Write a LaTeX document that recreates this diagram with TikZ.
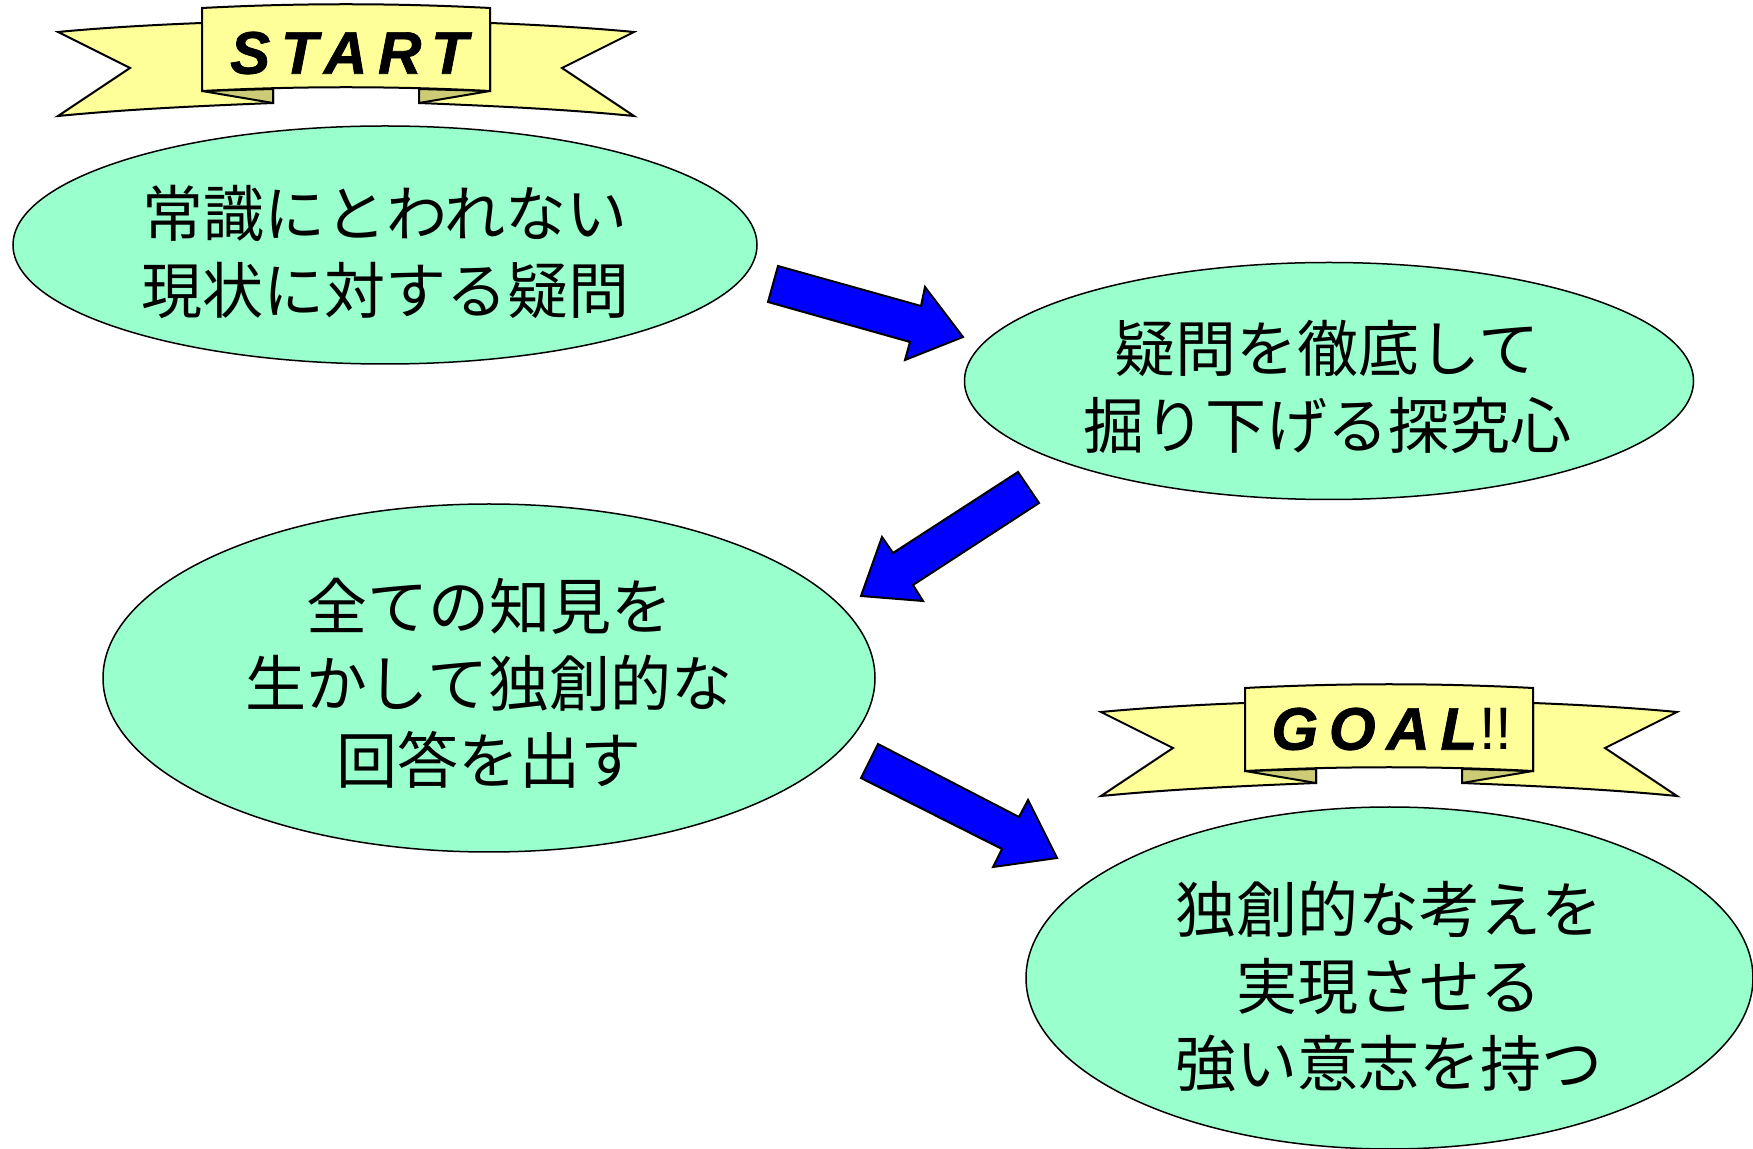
\documentclass[tikz,border=0pt]{standalone}
\usepackage{fontspec}
\usetikzlibrary{shapes.geometric}
\newfontfamily\jp{Noto Sans CJK JP}
\newfontfamily\bannerfont{Liberation Sans}[LetterSpace=18, FakeBold=1.2]
\newfontfamily\bangfont{Liberation Sans}
\definecolor{mint}{HTML}{99FFCC}
\definecolor{ribbon}{HTML}{FFFF99}
\definecolor{ribbondark}{HTML}{CCCC77}
\definecolor{arrowblue}{HTML}{0000FF}
\newcommand\drawribbon{%
  % left wing
  \draw[ribbonline, fill=ribbon] (202,23) .. controls (150,25) and (100,28) .. (58,32) -- (130,68) -- (58,116)
    .. controls (130,109) and (200,106) .. (273,103) -- (273,90) -- (202,91) -- cycle;
  % right wing
  \draw[ribbonline, fill=ribbon] (490,23) .. controls (542,25) and (592,28) .. (634,32) -- (562,68) -- (634,116)
    .. controls (562,109) and (492,106) .. (419,103) -- (419,90) -- (490,91) -- cycle;
  % folds
  \draw[ribbonline, fill=ribbondark] (202,91) -- (273,89) -- (273,103) -- cycle;
  \draw[ribbonline, fill=ribbondark] (490,91) -- (419,89) -- (419,103) -- cycle;
  % centre panel
  \draw[ribbonline, fill=ribbon] (202,8) .. controls (298,3) and (394,3) .. (490,8)
    -- (490,91) .. controls (394,86) and (298,86) .. (202,91) -- cycle;
}
\begin{document}
\begin{tikzpicture}[x=0.5pt,y=-0.5pt,
  bubble/.style={ellipse, draw=black, line width=0.75pt, fill=mint, inner sep=0pt},
  bubbletext/.style={inner sep=0pt, align=center, font=\jp\fontsize{30.5pt}{38.5pt}\selectfont},
  ribbonline/.style={draw=black, line width=1pt, line join=miter},
  blockarrow/.style={draw=black, fill=arrowblue, line width=1pt, line join=miter},
  bannertext/.style={inner sep=0pt, font=\fontsize{30pt}{36pt}\selectfont}]
\useasboundingbox (0,0) rectangle (1753,1149);
\fill[white] (0,0) rectangle (1753,1149);

% START banner
\begin{scope}
  \drawribbon
\end{scope}
\node[bannertext] (start) at (349,53) {\bannerfont\bfseries\itshape START};

% GOAL banner
\begin{scope}[shift={(1043,680)}]
  \drawribbon
\end{scope}
\node[bannertext] (goal) at (1392,729) {\bannerfont\bfseries\itshape GOAL\hspace{1pt}{\bangfont\mdseries\upshape !!}};

% ellipses
\node[bubble, minimum width=372pt, minimum height=119pt] (e1) at (385,245) {};
\node[bubble, minimum width=364.5pt, minimum height=118.5pt] (e2) at (1329,381) {};
\node[bubble, minimum width=386pt, minimum height=174pt] (e3) at (489,678) {};
\node[bubble, minimum width=363.5pt, minimum height=171pt] (e4) at (1389.5,978) {};

\node[bubbletext] (t1) at (385,252) {常識にとわれない\\現状に対する疑問};
\node[bubbletext] (t2) at (1327,387) {疑問を徹底して\\掘り下げる探究心};
\node[bubbletext] (t3) at (489,683) {全ての知見を\\生かして独創的な\\回答を出す};
\node[bubbletext] (t4) at (1389,986) {独創的な考えを\\実現させる\\強い意志を持つ};

% block arrows
\draw[blockarrow] (778,266) -- (921,306) -- (925,287) -- (963,337) -- (905,360) -- (910,342) -- (768,302) -- cycle;
\draw[blockarrow] (1018,472) -- (1039,503) -- (913,585) -- (923,601) -- (861,596) -- (882,537) -- (893,553) -- cycle;
\draw[blockarrow] (878,744) -- (861,778) -- (1002,849) -- (993,867) -- (1057,858) -- (1028,800) -- (1019,817) -- cycle;
\end{tikzpicture}
\end{document}
